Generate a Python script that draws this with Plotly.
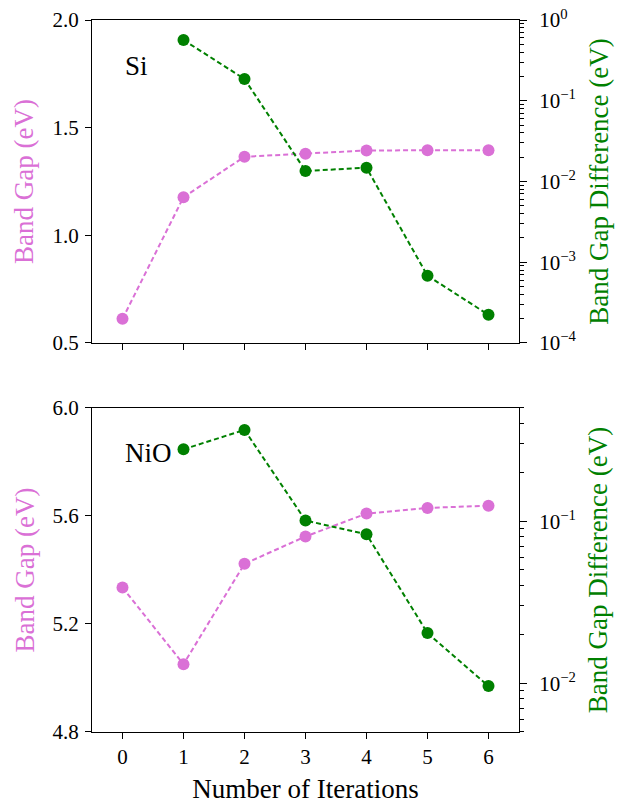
import plotly.graph_objects as go
from plotly.subplots import make_subplots

iterations = [0, 1, 2, 3, 4, 5, 6]

si_gap = [0.612, 1.177, 1.365, 1.379, 1.394, 1.395, 1.395]
si_diff = [None, 0.565, 0.186, 0.0135, 0.0148, 0.00068, 0.000223]

nio_gap = [5.335, 5.051, 5.423, 5.524, 5.609, 5.630, 5.638]
nio_diff = [None, 0.278, 0.366, 0.101, 0.083, 0.0204, 0.0096]

x_ticks = [0, 1, 2, 3, 4, 5, 6]
si_left_ticks = [0.5, 1.0, 1.5, 2.0]
nio_left_ticks = [4.8, 5.2, 5.6, 6.0]
si_right_ticks = [1e-4, 1e-3, 1e-2, 1e-1, 1]
si_right_text = ["10<sup>−4</sup>", "10<sup>−3</sup>", "10<sup>−2</sup>", "10<sup>−1</sup>", "10<sup>0</sup>"]
nio_right_ticks = [1e-2, 1e-1]
nio_right_text = ["10<sup>−2</sup>", "10<sup>−1</sup>"]

PINK = "#DA70D6"
GREEN = "#008000"
FONT = "Liberation Serif"
TICK = 21
LAB = 27


def minors(lo_exp, hi_exp, lo_val=None, hi_val=None):
    vals = []
    for e in range(lo_exp, hi_exp):
        for m in range(2, 10):
            v = m * 10 ** e
            if (lo_val is None or v >= lo_val) and (hi_val is None or v <= hi_val):
                vals.append(v)
    return vals


fig = make_subplots(rows=2, cols=1, specs=[[{"secondary_y": True}], [{"secondary_y": True}]])

for row, gap, diff in [(1, si_gap, si_diff), (2, nio_gap, nio_diff)]:
    fig.add_trace(go.Scatter(x=iterations, y=gap, mode="lines+markers",
                             line=dict(color=PINK, width=2, dash="5px,3px"),
                             marker=dict(color=PINK, size=12), showlegend=False),
                  row=row, col=1, secondary_y=False)
    fig.add_trace(go.Scatter(x=iterations, y=diff, mode="lines+markers",
                             line=dict(color=GREEN, width=2, dash="5px,3px"),
                             marker=dict(color=GREEN, size=12), showlegend=False),
                  row=row, col=1, secondary_y=True)

axcommon = dict(showline=True, linecolor="black", linewidth=1.2, ticks="outside",
                tickwidth=1.2, tickcolor="black", showgrid=False, zeroline=False,
                tickfont=dict(family=FONT, size=TICK, color="black"), automargin=False,
                ticklabeloverflow="allow")

left_title = dict(text="Band Gap (eV)", font=dict(family=FONT, size=LAB, color=PINK), standoff=10)
right_title = dict(text="Band Gap Difference (eV)", font=dict(family=FONT, size=LAB, color=GREEN), standoff=13)
minor_style = dict(ticks="outside", ticklen=3.5, tickwidth=1, tickcolor="black")

fig.update_layout(
    width=616, height=796,
    margin=dict(l=84, r=105, t=12, b=72),
    plot_bgcolor="white", paper_bgcolor="white",
    font=dict(family=FONT, color="black"),
    xaxis=dict(domain=[0, 1], range=[-0.5, 6.5], tickvals=x_ticks, showticklabels=False,
               mirror=True, anchor="y", ticklen=6, **axcommon),
    xaxis2=dict(domain=[0, 1], range=[-0.5, 6.5], tickvals=x_ticks, mirror=True, anchor="y3",
                ticklen=6,
                title=dict(text="Number of Iterations", font=dict(family=FONT, size=LAB), standoff=11),
                **axcommon),
    yaxis=dict(domain=[0.5464, 1.0], range=[0.4999, 2.0001], tickvals=si_left_ticks,
               ticktext=["0.5", "1.0", "1.5", "2.0"], ticklen=6, ticklabelstandoff=2,
               title=left_title, **axcommon),
    yaxis2=dict(type="log", range=[-4.0001, 0.0001], tickvals=si_right_ticks, ticktext=si_right_text,
                side="right", overlaying="y", anchor="x", ticklen=7, ticklabelstandoff=8,
                minor=dict(tickvals=minors(-4, 0), **minor_style),
                title=right_title, **axcommon),
    yaxis3=dict(domain=[0, 0.4551], range=[4.7999, 6.0001], tickvals=nio_left_ticks,
                ticktext=["4.8", "5.2", "5.6", "6.0"], ticklen=6, ticklabelstandoff=2,
                title=left_title, **axcommon),
    yaxis4=dict(type="log", range=[-2.30103, -0.30103], tickvals=nio_right_ticks, ticktext=nio_right_text,
                side="right", overlaying="y3", anchor="x2", ticklen=7, ticklabelstandoff=8,
                minor=dict(tickvals=minors(-3, 0, 0.005, 0.5), **minor_style),
                title=right_title, **axcommon),
    annotations=[
        dict(text="Si", x=0, y=0.857, xref="x", yref="y domain", xanchor="left", yanchor="middle",
             showarrow=False, font=dict(family=FONT, size=LAB, color="black")),
        dict(text="NiO", x=0, y=0.861, xref="x2", yref="y3 domain", xanchor="left", yanchor="middle",
             showarrow=False, font=dict(family=FONT, size=LAB, color="black")),
    ],
)

fig.write_html("out.html")
